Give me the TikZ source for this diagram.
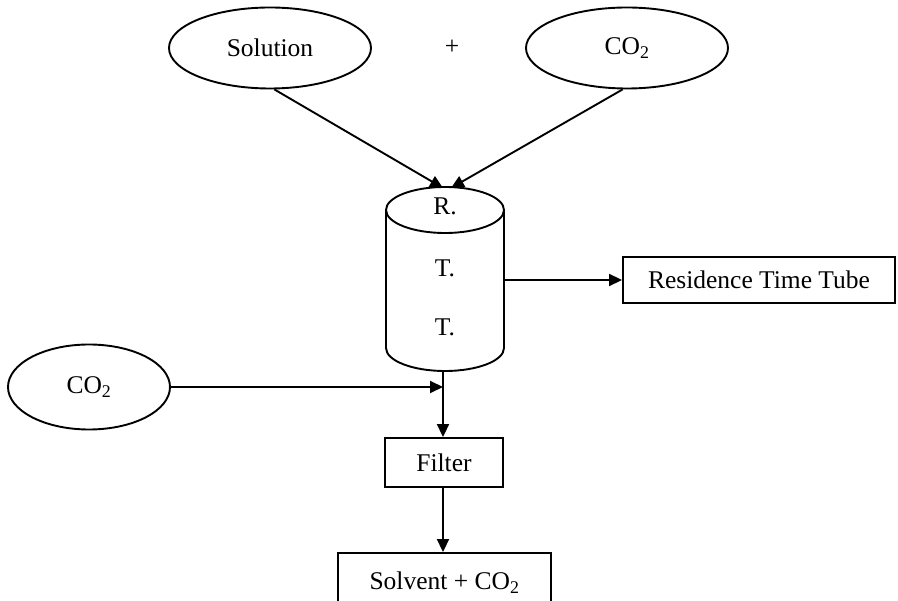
\documentclass[tikz,border=0pt]{standalone}
\usepackage{fontspec}
\setmainfont{Liberation Serif}
\usetikzlibrary{shapes.geometric,arrows.meta,calc}
\begin{document}
\begin{tikzpicture}[x=1pt,y=-1pt,line width=1.9pt,
  font=\fontsize{25.5}{30}\selectfont,
  oval/.style={draw,ellipse,inner sep=0pt},
  boxnode/.style={draw,rectangle,inner sep=0pt},
  flow/.style={-{Triangle[length=13pt,width=12pt]}}]
\clip (0,0) rectangle (898,601);
\fill[white] (0,0) rectangle (898,601);

% feed streams
\node[oval,minimum width=202,minimum height=81] (sol) at (270,48) {Solution};
\node (plus) at (452,47) {+};
\node[oval,minimum width=202,minimum height=81] (co2a) at (627,48) {CO\textsubscript{2}};

% residence time tube (cylinder)
\node[minimum width=118,minimum height=183,inner sep=0pt] (rtt) at (445,278.5) {};
\draw (445,210) ellipse [x radius=59,y radius=23];
\draw (386,210) -- (386,348) arc[start angle=180,end angle=0,x radius=59,y radius=23] -- (504,210);
\node (r1) at (445,206) {R.};
\node (r2) at (445,268) {T.};
\node (r3) at (445,327) {T.};

\node[boxnode,minimum width=272,minimum height=46] (res) at (759,280) {Residence Time Tube};

\node[oval,minimum width=162,minimum height=85] (co2b) at (89,387) {CO\textsubscript{2}};
\node[boxnode,minimum width=118,minimum height=49] (filt) at (444,462.5) {Filter};
\node[boxnode,minimum width=213,minimum height=60] (solv) at (444.5,583) {Solvent + CO\textsubscript{2}};

\coordinate (inL) at (443,188);
\coordinate (inR) at (451,188);
\coordinate (join) at (443,387);

% connectors
\draw[flow] (sol.-84) -- (inL);
\draw[flow] (co2a.-96) -- (inR);
\draw[flow] (rtt.east |- res.west) -- (res.west);
\draw[flow] (co2b.east) -- (join);
\draw[flow] (join |- rtt.south) -- (join |- filt.north);
\draw[flow] (join |- filt.south) -- (join |- solv.north);
\end{tikzpicture}
\end{document}
